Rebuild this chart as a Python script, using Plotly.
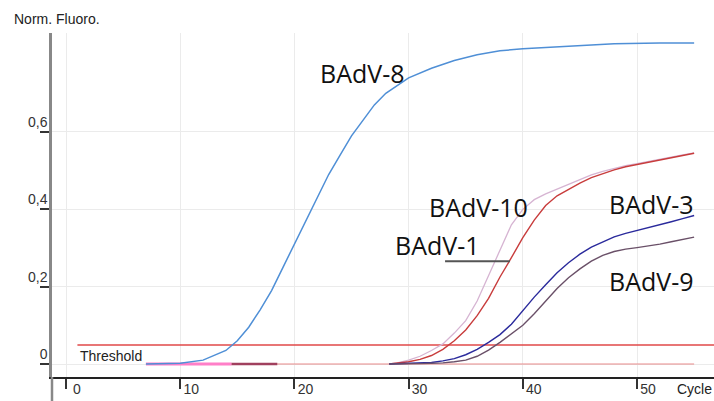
import plotly.graph_objects as go

# ---- data ----
cyc8 = [7, 10, 12, 14, 15, 16, 17, 18, 19, 20, 21, 22, 23, 24, 25, 26, 27, 28, 29, 30,
        32, 34, 36, 38, 40, 44, 48, 52, 55]
badv8 = [0.0, 0.002, 0.01, 0.035, 0.06, 0.095, 0.14, 0.19, 0.25, 0.31, 0.37, 0.43, 0.49,
         0.54, 0.59, 0.63, 0.67, 0.70, 0.72, 0.74, 0.765, 0.785, 0.80, 0.81, 0.815, 0.822,
         0.828, 0.83, 0.83]

cyc_late = [28.3, 29, 30, 31, 32, 33, 34, 35, 36, 37, 38, 39, 40, 41, 42, 43, 44, 45, 46,
            47, 48, 49, 50, 51, 52, 53, 54, 55]
badv10 = [0.0, 0.003, 0.01, 0.02, 0.035, 0.052, 0.08, 0.112, 0.163, 0.23, 0.295, 0.36, 0.4,
          0.425, 0.44, 0.452, 0.466, 0.478, 0.489, 0.498, 0.506, 0.513, 0.518, 0.524, 0.53,
          0.536, 0.541, 0.546]
badv1 = [0.0, 0.002, 0.006, 0.012, 0.022, 0.038, 0.06, 0.088, 0.125, 0.17, 0.225, 0.275,
         0.327, 0.372, 0.41, 0.435, 0.452, 0.468, 0.482, 0.493, 0.502, 0.51, 0.516, 0.522,
         0.528, 0.534, 0.54, 0.545]
badv3 = [0.0, 0.001, 0.002, 0.003, 0.004, 0.008, 0.014, 0.024, 0.038, 0.056, 0.076, 0.103,
         0.138, 0.173, 0.205, 0.236, 0.262, 0.284, 0.302, 0.316, 0.329, 0.338, 0.345, 0.352,
         0.36, 0.368, 0.376, 0.384]
badv9 = [0.0, 0.0, 0.001, 0.001, 0.002, 0.003, 0.006, 0.01, 0.02, 0.036, 0.056, 0.078, 0.1,
         0.13, 0.163, 0.195, 0.223, 0.246, 0.266, 0.281, 0.291, 0.297, 0.301, 0.305, 0.31,
         0.316, 0.322, 0.328]

neg_cyc = [7, 55]
neg_val = [0.0, 0.0]
pink_cyc = [7, 14.5]
maroon_cyc = [14.5, 18.5]
flat_val = [0.0, 0.0]

threshold = 0.049
thr_cyc = [1.0, 57.0]

xtick_vals = [0, 10, 20, 30, 40, 50]
xtick_text = ["0", "10", "20", "30", "40", "50"]
ytick_vals = [0, 0.2, 0.4, 0.6]
ytick_text = ["0", "0,2", "0,4", "0,6"]

labels = [
    ("BAdV-8", 25.92, 0.7525),
    ("BAdV-10", 36.08, 0.406),
    ("BAdV-1", 32.49, 0.308),
    ("BAdV-3", 51.23, 0.414),
    ("BAdV-9", 51.23, 0.2147),
]

fig = go.Figure()

def line(x, y, color, width):
    fig.add_trace(go.Scatter(x=x, y=y, mode="lines", line=dict(color=color, width=width),
                             showlegend=False, hoverinfo="skip"))

line(neg_cyc, neg_val, "#e88a8a", 1)
line(pink_cyc, flat_val, "#ff7fc8", 3)
line(maroon_cyc, flat_val, "#a0405e", 2.5)
line(thr_cyc, [threshold, threshold], "#e04848", 1.4)
line(cyc8, badv8, "#4f8fd6", 1.5)
line(cyc_late, badv10, "#d6b4d2", 1.3)
line(cyc_late, badv1, "#c83c3c", 1.4)
line(cyc_late, badv3, "#2a2a9c", 1.4)
line(cyc_late, badv9, "#6a5068", 1.4)

for text, x, y in labels:
    fig.add_annotation(x=x, y=y, text=text, showarrow=False,
                       font=dict(family="Open Sans", size=25, color="#111111"))

# callout line for BAdV-1
fig.add_shape(type="line", x0=33.19, x1=38.88, y0=0.266, y1=0.266,
              line=dict(color="#555555", width=2))

fig.add_annotation(x=1.05, y=0.021, text="Threshold", showarrow=False, xanchor="left",
                   yanchor="middle",
                   font=dict(family="Liberation Sans", size=14, color="#222222"))
fig.add_annotation(x=(12 - 52) / 662, xref="paper", y=(377 - 19) / 344, yref="paper",
                   text="Norm. Fluoro.", showarrow=False, xanchor="left", yanchor="middle",
                   font=dict(family="Liberation Sans", size=14, color="#222222"))
fig.add_annotation(x=1.0, xref="paper", y=-(389 - 377) / 344, yref="paper", text="Cycle",
                   showarrow=False, xanchor="right", yanchor="middle",
                   font=dict(family="Liberation Sans", size=14, color="#222222"))

# y-axis line extension below x-axis
fig.add_shape(type="line", xref="paper", yref="paper", x0=0, x1=0, y0=0, y1=-0.075,
              line=dict(color="#888888", width=2.5))

fig.update_layout(
    width=714, height=401,
    margin=dict(l=52, r=0, t=33, b=24),
    plot_bgcolor="white", paper_bgcolor="white",
    xaxis=dict(range=[-1.226, 56.74], tickvals=xtick_vals, ticktext=xtick_text,
               showgrid=True, gridcolor="#ebebeb", gridwidth=1, zeroline=False,
               showline=True, linecolor="#222222", linewidth=1.8,
               ticks="outside", ticklen=10, tickcolor="#333333", tickwidth=1.5,
               ticklabelshift=11, ticklabelstandoff=-12,
               tickfont=dict(family="Liberation Sans", size=14, color="#333333")),
    yaxis=dict(range=[-0.0336, 0.856], tickvals=ytick_vals, ticktext=ytick_text,
               showgrid=True, gridcolor="#ebebeb", gridwidth=1, zeroline=False,
               showline=True, linecolor="#888888", linewidth=2.5,
               ticks="outside", ticklen=9, tickcolor="#333333", tickwidth=1.5,
               ticklabelshift=-10, ticklabelstandoff=-10,
               tickfont=dict(family="Liberation Sans", size=14, color="#333333")),
)

fig.write_html("out.html", config={"displayModeBar": False},
               post_script="document.body.style.margin='0';document.body.style.overflow='hidden';")
